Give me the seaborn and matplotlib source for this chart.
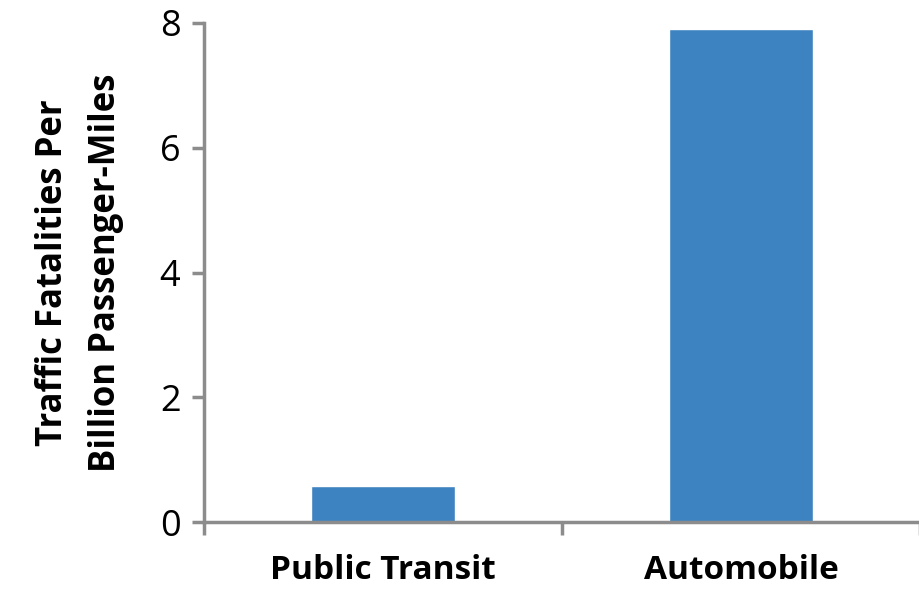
import matplotlib
matplotlib.use("Agg")
import matplotlib.pyplot as plt
import seaborn as sns
import pandas as pd
from matplotlib.ticker import FixedLocator

modes = ["Public Transit", "Automobile"]
fatalities = [0.58, 7.9]
y_ticks = [0, 2, 4, 6, 8]

df = pd.DataFrame({"mode": modes, "fatalities": fatalities})

sns.set_style("white")
plt.rcParams["font.family"] = ["Open Sans", "DejaVu Sans"]
plt.rcParams["text.color"] = "black"
plt.rcParams["axes.labelcolor"] = "black"
plt.rcParams["xtick.color"] = "black"
plt.rcParams["ytick.color"] = "black"

axis_grey = "#8c8c8c"

fig = plt.figure(figsize=(9.2, 5.91), dpi=100)
ax = fig.add_axes([204 / 920, 69 / 591, 716 / 920, 499 / 591])

sns.barplot(data=df, x="mode", y="fatalities", color="#3e83c1", width=0.4,
            saturation=1, ax=ax)

ax.set_ylim(0, 8)
ax.set_xlim(-0.5, 1.5)
ax.set_yticks(y_ticks)
ax.set_yticklabels([str(t) for t in y_ticks], fontsize=26)
ax.set_xticks(range(len(modes)))
ax.set_xticklabels(modes, fontsize=24, fontweight="bold")
ax.xaxis.set_minor_locator(FixedLocator([-0.5, 0.5, 1.5]))

ax.tick_params(axis="x", which="major", bottom=True, length=0, pad=23)
ax.tick_params(axis="x", which="minor", bottom=True, length=9, width=2.5,
               color=axis_grey, direction="out")
ax.tick_params(axis="y", left=True, length=9, width=2.5, color=axis_grey,
               direction="out", pad=8)

ax.set_xlabel("")
ax.set_ylabel("Traffic Fatalities Per\nBillion Passenger-Miles", fontsize=25,
              fontweight="bold", labelpad=26, linespacing=1.6)

for side in ["top", "right"]:
    ax.spines[side].set_visible(False)
for side in ["left", "bottom"]:
    ax.spines[side].set_color(axis_grey)
    ax.spines[side].set_linewidth(2.5)
    ax.spines[side].set_zorder(3)

fig.savefig("out.png", dpi=100)
